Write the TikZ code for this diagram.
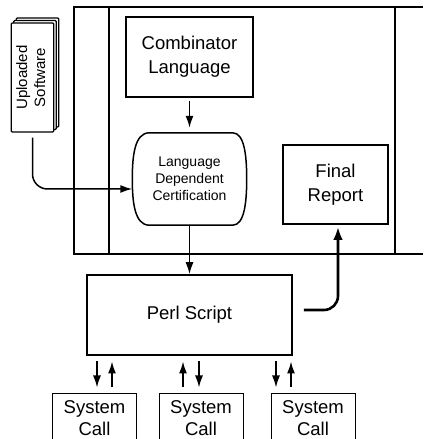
\documentclass[tikz,border=0pt]{standalone}
\usepackage{fontspec}
\setmainfont{Liberation Sans}
\usepackage{graphicx}
\usetikzlibrary{arrows.meta, positioning, calc, shadows}

\begin{document}
\begin{tikzpicture}[
    x=1pt, y=1pt,
    every node/.style={align=center},
    frame/.style={line width=2.8pt},
    block/.style={rectangle, draw=black, line width=1.6pt, fill=white, font=\fontsize{18.5}{24}\selectfont},
    cert/.style={rectangle, minimum width=114pt, minimum height=92pt, font=\fontsize{14}{17}\selectfont},
    certline/.style={line width=1.5pt},
    sysbox/.style={rectangle, draw=black, line width=1pt, minimum width=84pt, minimum height=48pt, inner sep=0pt, font=\fontsize{18.5}{22}\selectfont},
    upload/.style={rectangle, rounded corners=1pt, draw=black, line width=1.2pt, fill=white, minimum width=39pt, minimum height=109pt, double copy shadow={shadow xshift=2.5pt, shadow yshift=2.5pt}},
    arrow/.style={line width=1.5pt, -{Latex[length=12pt,width=8pt]}},
    bigarrow/.style={line width=2.6pt, -{Latex[length=13pt,width=9.5pt]}}
]
\useasboundingbox (0,0) rectangle (423,439);

% Frame
\draw [frame] (423,432) -- (74,432) -- (74,185) -- (423,185);
\draw [frame] (109,432) -- (109,185);
\draw [frame] (395,432) -- (395,185);

% Certification
\node (comb) [block, minimum width=127pt, minimum height=80pt] at (189.5,382) {Combinator\\Language};
\node (ldc) [cert, below=35pt of comb] {Language\\Dependent\\Certification};
\draw [certline] ([xshift=17pt]ldc.north west) -- ([xshift=-14pt]ldc.north east)
    .. controls ([xshift=-2pt]ldc.north east) and ([yshift=22pt]ldc.east) .. (ldc.east)
    .. controls ([yshift=-22pt]ldc.east) and ([xshift=-2pt]ldc.south east) .. ([xshift=-14pt]ldc.south east)
    -- ([xshift=17pt]ldc.south west)
    .. controls ([xshift=2pt]ldc.south west) and ([yshift=-22pt]ldc.west) .. (ldc.west)
    .. controls ([yshift=22pt]ldc.west) and ([xshift=2pt]ldc.north west) .. cycle;
\node (final) [block, minimum width=105pt, minimum height=79pt] at (335.5,254.5) {Final\\Report};

% Input
\node (upl) [upload] at (32.5,361.5) {\rotatebox{90}{\fontsize{15}{18}\selectfont\begin{tabular}{@{}c@{}}Uploaded\\Software\end{tabular}}};

% Script and system calls
\node (perl) [block, minimum width=205pt, minimum height=80pt, below=49pt of ldc] {Perl Script};
\node (sysA) [sysbox] at (94.5,21) {System\\Call};
\node (sysB) [sysbox] at (201,21) {System\\Call};
\node (sysC) [sysbox] at (313,21) {System\\Call};

% Arrows
\draw [arrow, shorten <=3pt, shorten >=5pt] (comb) -- (ldc);
\draw [arrow, rounded corners=15pt] ([yshift=-5pt]upl.south) |- ([yshift=-10pt]ldc.west);
\draw [arrow] (ldc) -- (perl);
\draw [bigarrow, rounded corners=14pt] ([xshift=11pt,yshift=5pt]perl.east) -| ([xshift=2.5pt,yshift=-2pt]final.south);
\draw [arrow] ($(sysA.north)+(2.5,32)$) -- ($(sysA.north)+(2.5,6)$);
\draw [arrow] ($(sysA.north)+(17.5,6)$) -- ($(sysA.north)+(17.5,32)$);
\draw [arrow] ($(sysB.north)+(-18,6)$) -- ($(sysB.north)+(-18,32)$);
\draw [arrow] ($(sysB.north)+(-2,32)$) -- ($(sysB.north)+(-2,6)$);
\draw [arrow] ($(sysC.north)+(-37,32)$) -- ($(sysC.north)+(-37,6)$);
\draw [arrow] ($(sysC.north)+(-22,6)$) -- ($(sysC.north)+(-22,32)$);

\end{tikzpicture}
\end{document}
